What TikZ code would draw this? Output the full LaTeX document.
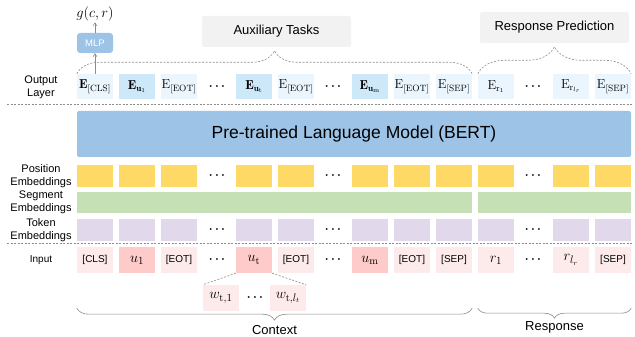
\documentclass[tikz,border=0pt]{standalone}
\usepackage{fontspec}
\setsansfont{Liberation Sans}
\usetikzlibrary{arrows.meta,decorations.pathreplacing}

\definecolor{outlt}{HTML}{EAF5FD}
\definecolor{outdk}{HTML}{CCE8F9}
\definecolor{bertblue}{HTML}{9DC3E6}
\definecolor{posyel}{HTML}{FFD966}
\definecolor{seggrn}{HTML}{C5E0B4}
\definecolor{tokpur}{HTML}{E1D8EC}
\definecolor{inlt}{HTML}{FDEBEB}
\definecolor{indk}{HTML}{FFCACA}
\definecolor{taskgray}{HTML}{F2F2F2}
\definecolor{linegray}{HTML}{8C8C8C}

\tikzset{cell/.style = {minimum width = 36pt, minimum height = #1, inner sep = 0pt},
         cell/.default = 25pt,
         outbox/.style = {cell, fill = outlt, font = \fontsize{13}{15}\selectfont},
         outhi/.style  = {cell, fill = outdk, font = \fontsize{13}{15}\selectfont},
         inbox/.style  = {cell = 26pt, fill = inlt, font = \sffamily\fontsize{10}{12}\selectfont},
         inhi/.style   = {cell = 26pt, fill = indk, font = \sffamily\fontsize{10}{12}\selectfont},
         posbox/.style = {cell = 22pt, fill = posyel},
         tokbox/.style = {cell = 22pt, fill = tokpur},
         segbox/.style = {minimum height = 21pt, inner sep = 0pt, fill = seggrn},
         dots/.style   = {inner sep = 0pt, font = \fontsize{13}{15}\selectfont\boldmath},
         rowlabel/.style = {align = center, font = \sffamily\fontsize{11}{12.5}\selectfont},
         taskbox/.style = {minimum width = 149pt, minimum height = 31pt, inner sep = 0pt,
                           rounded corners = 2pt, fill = taskgray, font = \sffamily\fontsize{13}{15}\selectfont},
         sepline/.style = {linegray, line width = 0.6pt, dash pattern = on 2pt off 1.5pt},
         dashbrace/.style = {linegray, line width = 0.6pt, dash pattern = on 2pt off 1.5pt,
                             decorate, decoration = {brace, amplitude = #1}},
         downbrace/.style = {linegray, line width = 0.6pt,
                             decorate, decoration = {brace, mirror, amplitude = #1}},
         arr/.style = {linegray, line width = 0.6pt, -{Straight Barb[length = 3pt, width = 4pt]}}
        }

\begin{document}
\begin{tikzpicture}[x = 1pt, y = 1pt]
  \useasboundingbox (0, 0) rectangle (635, 337);
  % output layer
  \foreach \n/\x/\s/\t in {1/95/outbox/{$\mathbf{E}_{[\mathrm{CLS}]}$}, 2/137/outhi/{$\mathbf{E}_{\mathbf{u}_1}$},
                            3/179/outbox/{$\mathrm{E}_{[\mathrm{EOT}]}$}, 4/254/outhi/{$\mathbf{E}_{\mathbf{u}_\mathrm{t}}$},
                            5/296/outbox/{$\mathrm{E}_{[\mathrm{EOT}]}$}, 6/370/outhi/{$\mathbf{E}_{\mathbf{u}_\mathrm{m}}$},
                            7/412/outbox/{$\mathrm{E}_{[\mathrm{EOT}]}$}, 8/454/outbox/{$\mathrm{E}_{[\mathrm{SEP}]}$},
                            9/496/outbox/{$\mathrm{E}_{\mathrm{r}_1}$}, 10/571/outbox/{$\mathrm{E}_{\mathrm{r}_{l_r}}$},
                            11/613/outbox/{$\mathrm{E}_{[\mathrm{SEP}]}$}}
      {\node[\s] (o\n) at (\x, 250.5) {\t};};
  % language model
  \node[cell = 46pt, minimum width = 554pt, rounded corners = 2pt, fill = bertblue,
        font = \sffamily\fontsize{17.5}{20}\selectfont] (bert) at (354, 203) {Pre-trained Language Model (BERT)};
  % embeddings
  \foreach \n/\x in {1/95, 2/137, 3/179, 4/254, 5/296, 6/370, 7/412, 8/454, 9/496, 10/571, 11/613}
      {\node[posbox] (p\n) at (\x, 161) {}; \node[tokbox] (t\n) at (\x, 107) {};};
  \node[segbox, minimum width = 395pt] (s1) at (274.5, 134.5) {};
  \node[segbox, minimum width = 153pt] (s2) at (554.5, 134.5) {};
  % input
  \foreach \n/\x/\s/\t in {1/95/inbox/{[CLS]}, 2/137/inhi/{\fontsize{15}{17}\selectfont$u_1$},
                            3/179/inbox/{[EOT]}, 4/254/inhi/{\fontsize{15}{17}\selectfont$u_\mathrm{t}$},
                            5/296/inbox/{[EOT]}, 6/370/inhi/{\fontsize{15}{17}\selectfont$u_\mathrm{m}$},
                            7/412/inbox/{[EOT]}, 8/454/inbox/{[SEP]},
                            9/496/inbox/{\fontsize{15}{17}\selectfont$r_1$}, 10/571/inbox/{\fontsize{15}{17}\selectfont$r_{l_r}$},
                            11/613/inbox/{[SEP]}}
      {\node[\s] (i\n) at (\x, 77) {\t};};
  \node[inbox, font = \fontsize{15}{17}\selectfont] (w1) at (221, 39) {$w_{\mathrm{t},1}$};
  \node[inbox, font = \fontsize{15}{17}\selectfont] (w2) at (288, 39) {$w_{\mathrm{t},l_t}$};
  \node[dots] (wd) at (255, 39) {$\cdots$};
  % dots between columns
  \foreach \n/\x in {1/217, 2/333, 3/533}
      {\node[dots] (od\n) at (\x, 250.5) {$\cdots$};
       \node[dots] (pd\n) at (\x, 161) {$\cdots$};
       \node[dots] (td\n) at (\x, 107) {$\cdots$};
       \node[dots] (id\n) at (\x, 77) {$\cdots$};};
  % row labels
  \node[rowlabel] (lout) at (41, 249.5) {Output\\Layer};
  \node[rowlabel] (lpos) at (41, 161) {Position\\Embeddings};
  \node[rowlabel] (lseg) at (41, 134.5) {Segment\\Embeddings};
  \node[rowlabel] (ltok) at (41, 107) {Token\\Embeddings};
  \node[rowlabel, font = \sffamily\fontsize{10}{12}\selectfont] (lin) at (41, 77) {Input};
  \draw[sepline] (7, 232.5) -- (632, 232.5);
  \draw[sepline] (7, 94) -- (632, 94);
  % heads
  \node[cell = 20pt, rounded corners = 3pt, fill = bertblue, text = white,
        font = \sffamily\fontsize{9.5}{11}\selectfont] (mlp) at (95, 294) {MLP};
  \node[inner sep = 1pt, font = \fontsize{15}{17}\selectfont] (g) at (95, 323) {$g(c,r)$};
  \draw[arr] (o1.north) -- (mlp.south);
  \draw[arr] (mlp.north) -- (g.south);
  \node[taskbox] (aux) at (276.5, 305.5) {Auxiliary Tasks};
  \node[taskbox] (resp) at (554.5, 309.5) {Response Prediction};
  \draw[dashbrace = 23pt] (o1.north west) -- (o8.north east);
  \draw[dashbrace = 27pt] (o9.north west) -- (o11.north east);
  % sub-tokens and braces
  \draw[sepline] (i4.south west) -- (w1.north west);
  \draw[sepline] (i4.south east) -- (w2.north east);
  \draw[downbrace = 12pt] ([yshift = -35pt]i1.south west) -- ([yshift = -35pt]i8.south east);
  \draw[downbrace = 10pt] ([yshift = -35pt]i9.south west) -- ([yshift = -35pt]i11.south east);
  \node[font = \sffamily\fontsize{13}{15}\selectfont] (ctx) at (274.5, 7) {Context};
  \node[font = \sffamily\fontsize{13}{15}\selectfont] (rsp) at (554.5, 10) {Response};
\end{tikzpicture}
\end{document}
